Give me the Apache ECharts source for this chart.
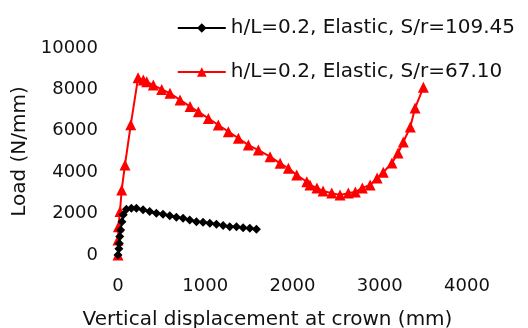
<!DOCTYPE html>
<html>
<head>
<meta charset="utf-8">
<script src="https://cdn.jsdelivr.net/npm/echarts@6/dist/echarts.min.js"></script>
<style>
  html, body { margin: 0; padding: 0; background: #fff; }
  #chart { width: 528px; height: 328px; }
</style>
</head>
<body>
<div id="chart"></div>
<script>
// Series values (displacement in mm, load in N/mm)
const blackX = [0, 10, 15, 20, 30, 45, 60, 96, 153, 211, 287, 363, 440, 516, 593, 669, 746, 822, 899, 975, 1052, 1128, 1205, 1281, 1358, 1434, 1511, 1587];
const blackY = [0, 300, 560, 890, 1210, 1610, 1940, 2210, 2260, 2260, 2180, 2100, 2020, 1970, 1900, 1820, 1770, 1690, 1610, 1580, 1530, 1490, 1420, 1370, 1370, 1320, 1290, 1240];

const redX = [0, 0, 5, 23, 42, 80, 146, 230, 290, 329, 405, 501, 596, 711, 826, 921, 1036, 1150, 1265, 1380, 1494, 1609, 1743, 1858, 1953, 2049, 2164, 2200, 2280, 2350, 2450, 2545, 2640, 2720, 2800, 2890, 2970, 3040, 3140, 3210, 3270, 3350, 3405, 3500];
const redY = [0, 730, 1370, 2100, 3140, 4350, 6290, 8560, 8460, 8370, 8210, 8000, 7810, 7490, 7170, 6920, 6600, 6280, 5960, 5640, 5310, 5070, 4750, 4430, 4190, 3860, 3540, 3380, 3240, 3090, 2990, 2900, 2990, 3040, 3240, 3380, 3720, 4000, 4440, 4930, 5460, 6180, 7100, 8100];

const seriesNames = ['h/L=0.2, Elastic, S/r=109.45', 'h/L=0.2, Elastic, S/r=67.10'];
const xTitle = 'Vertical displacement at crown (mm)';
const yTitle = 'Load (N/mm)';

const zip = (xs, ys) => xs.map((x, i) => [x, ys[i]]);

const chart = echarts.init(document.getElementById('chart'));
const font = 'DejaVu Sans';

chart.setOption({
  animation: false,
  textStyle: { fontFamily: font, color: '#111' },
  // keep the plot box fixed, labels may sit outside it
  grid: { left: 118, right: 61, top: 48, bottom: 73, outerBoundsMode: 'none' },
  legend: {
    orient: 'vertical',
    right: 8,
    top: 13,
    itemWidth: 48,
    itemHeight: 12,
    itemGap: 24,
    textStyle: { fontFamily: font, fontSize: 20, color: '#111' },
    data: seriesNames
  },
  xAxis: {
    type: 'value',
    min: 0, max: 4000, interval: 1000,
    name: xTitle,
    nameLocation: 'middle',
    nameGap: 55,
    nameTextStyle: { fontSize: 20, color: '#111', padding: [0, 50, 0, 0] },
    axisLine: { show: false },
    axisTick: { show: false },
    splitLine: { show: false },
    axisLabel: { fontSize: 18, color: '#111', margin: 22, formatter: v => String(v) }
  },
  yAxis: {
    type: 'value',
    min: 0, max: 10000, interval: 2000,
    name: yTitle,
    nameLocation: 'middle',
    nameGap: 83,
    nameTextStyle: { fontSize: 20, color: '#111' },
    axisLine: { show: false },
    axisTick: { show: false },
    splitLine: { show: false },
    axisLabel: { fontSize: 18, color: '#111', margin: 20, formatter: v => String(v) }
  },
  series: [
    {
      name: seriesNames[0],
      type: 'line',
      data: zip(blackX, blackY),
      symbol: 'diamond',
      symbolSize: 9,
      lineStyle: { color: '#000', width: 2 },
      itemStyle: { color: '#000' },
      z: 3
    },
    {
      name: seriesNames[1],
      type: 'line',
      data: zip(redX, redY),
      symbol: 'triangle',
      symbolSize: 11,
      lineStyle: { color: '#ff0000', width: 2 },
      itemStyle: { color: '#ff0000' },
      z: 2
    }
  ]
});
</script>
</body>
</html>
